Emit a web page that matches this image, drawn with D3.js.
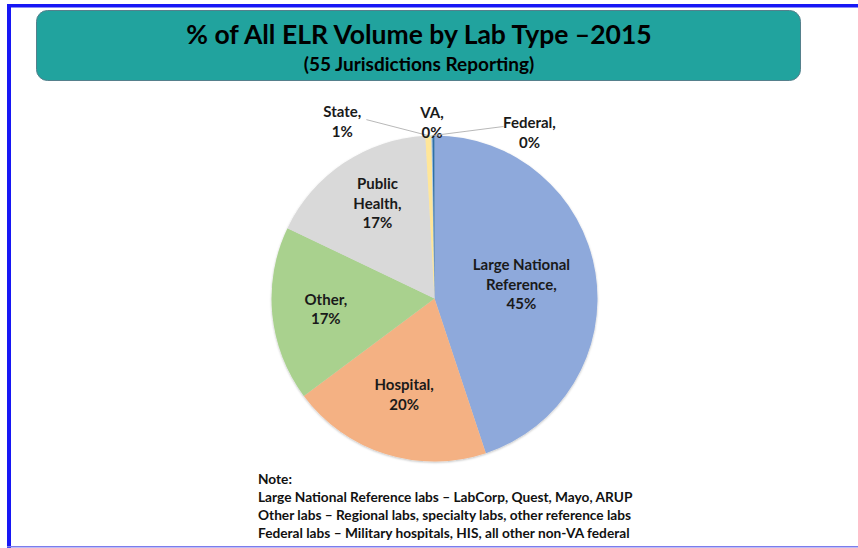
<!DOCTYPE html>
<html><head><meta charset="utf-8">
<script src="https://cdn.jsdelivr.net/npm/d3@7"></script>
<style>
html,body{margin:0;padding:0;background:#fff;}
svg{display:block;font-family:Lato,"Open Sans",sans-serif;}
</style></head>
<body>
<svg id="chart" width="858" height="548"></svg>
<script>
// ---- data ----
const categories = ["Large National Reference", "Hospital", "Other", "Public Health", "State", "VA", "Federal"];
const labelLines = [["Large National","Reference,"],["Hospital,"],["Other,"],["Public","Health,"],["State,"],["VA,"],["Federal,"]];
const values = [44.9, 19.9, 17.3, 17.0, 0.6, 0.1, 0.2];
const pctLabels = ["45%","20%","17%","17%","1%","0%","0%"];
const colors = ["#8EA9DB", "#F4B183", "#A9D18E", "#D9D9D9", "#FFE699", "#9DC3E6", "#2F6FA7"];
const titleText = "% of All ELR Volume by Lab Type \u20132015";
const subtitleText = "(55 Jurisdictions Reporting)";
const noteLines = ["Note:",
  "Large National Reference labs \u2013 LabCorp, Quest, Mayo, ARUP",
  "Other labs \u2013 Regional labs, specialty labs, other reference labs",
  "Federal labs \u2013 Military hospitals, HIS, all other non-VA federal"];

// ---- layout ----
const svg = d3.select("#chart");
const W = 858, H = 548;

// slide frame lines
svg.append("rect").attr("x",7).attr("y",4).attr("width",W-7).attr("height",3.5).attr("fill","#1717F5");
svg.append("rect").attr("x",7).attr("y",4).attr("width",4).attr("height",H-4).attr("fill","#1717F5");
svg.append("rect").attr("x",7).attr("y",546).attr("width",W-7).attr("height",1.5).attr("fill","#7C7CEC");

// title box
svg.append("rect").attr("x",36.5).attr("y",10.5).attr("width",764).attr("height",70)
  .attr("rx",11).attr("fill","#21A39E").attr("stroke","#55808C").attr("stroke-width",1);
svg.append("text").attr("x",419).attr("y",44).attr("text-anchor","middle")
  .attr("font-size",26.5).attr("font-weight",700).attr("fill","#000").text(titleText);
svg.append("text").attr("x",419).attr("y",70.5).attr("text-anchor","middle")
  .attr("font-size",19).attr("font-weight",700).attr("fill","#000").text(subtitleText);

// pie
const cx = 434.5, cy = 298.5, R = 163;
const pie = d3.pie().sort(null).value(d => d)(values);
const arc = d3.arc().innerRadius(0).outerRadius(R);

const defs = svg.append("defs");
const f = defs.append("filter").attr("id","sh").attr("x","-10%").attr("y","-10%").attr("width","120%").attr("height","120%");
f.append("feDropShadow").attr("dx",0).attr("dy",1).attr("stdDeviation",1.2).attr("flood-color","#000").attr("flood-opacity",0.25);

const g = svg.append("g").attr("transform",`translate(${cx},${cy})`);
g.append("g").attr("filter","url(#sh)").selectAll("path").data(pie).join("path")
  .attr("d", arc).attr("fill",(d,i)=>colors[i]);

// inside labels
const inside = [0,1,2,3];
const labelFrac = [0.54, 0.62, 0.67, 0.68];
const labelShift = [0, 0, 0, 0.05];
const fs = 15, lh = 19.5;
inside.forEach((i,k) => {
  const d = pie[i];
  const a = (d.startAngle + d.endAngle)/2 + labelShift[k];
  const r = R*labelFrac[k];
  const x = r*Math.sin(a), y = -r*Math.cos(a);
  const lines = labelLines[i].concat([pctLabels[i]]);
  const t = g.append("text").attr("text-anchor","middle").attr("font-size",fs).attr("font-weight",700).attr("fill","#1a1a1a");
  lines.forEach((ln,j) => {
    t.append("tspan").attr("x",x).attr("y", y + (j - (lines.length-1)/2)*lh + fs*0.35).text(ln);
  });
});

// outside labels with leader lines (offset from slice outer edge)
const outside = [4,5,6];
const outOffset = [[-86,-14],[0,-13],[96,-3]];
const leader = [[-62,-16],[0,0],[70,-9]];
outside.forEach((i,k) => {
  const d = pie[i];
  const a = (d.startAngle + d.endAngle)/2;
  const ex = R*Math.sin(a), ey = -R*Math.cos(a);
  if (leader[k][0] !== 0) {
    g.append("line").attr("x1",ex).attr("y1",ey).attr("x2",ex+leader[k][0]).attr("y2",ey+leader[k][1])
      .attr("stroke","#A6A6A6").attr("stroke-width",0.8);
  }
  const x = ex + outOffset[k][0], y = ey + outOffset[k][1];
  const lines = labelLines[i].concat([pctLabels[i]]);
  const t = g.append("text").attr("text-anchor","middle").attr("font-size",fs).attr("font-weight",700).attr("fill","#1a1a1a");
  lines.forEach((ln,j) => {
    t.append("tspan").attr("x",x).attr("y", y + (j - (lines.length-1)/2)*lh + fs*0.35).text(ln);
  });
});

// note
const note = svg.append("text").attr("font-size",13.7).attr("font-weight",700).attr("fill","#111");
noteLines.forEach((ln,j) => {
  note.append("tspan").attr("x",258).attr("y",484 + j*18).text(ln);
});
</script>
</body></html>
